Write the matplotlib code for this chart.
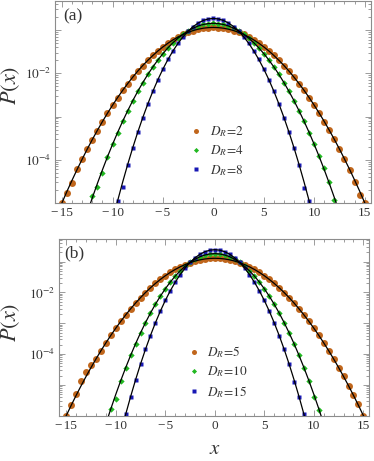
import numpy as np
import matplotlib
matplotlib.use("Agg")
import matplotlib.pyplot as plt
from matplotlib.ticker import FixedLocator, MultipleLocator, LogLocator, FuncFormatter
from matplotlib.lines import Line2D

plt.rcParams['font.family'] = ['Liberation Serif', 'DejaVu Serif']
plt.rcParams['mathtext.fontset'] = 'stix'

# ---------------- data ----------------
x_step = 0.5
xticks = [-15, -10, -5, 0, 5, 10, 15]
xtick_labels = ['\u2212\u200a15', '\u2212\u200a10', '\u2212\u200a5', '0', '5', '10', '15']
ytick_labels = {-2: r'$10^{-2}$', -4: r'$10^{-4}$'}

labels_a = [r'$D_R\!=\!2$', r'$D_R\!=\!4$', r'$D_R\!=\!8$']
labels_b = [r'$D_R\!=\!5$', r'$D_R\!=\!10$', r'$D_R\!=\!15$']

# panel (a) simulation points, first x of each series
x0_a2, x0_a4, x0_a8 = -15.0, -12.0, -9.5
pts_a2 = [1.02e-5, 1.74e-5, 2.9e-5, 6.02e-5, 1.04e-4, 1.77e-4, 2.80e-4, 4.6e-4, 7.6e-4, 1.19e-3,
          1.82e-3, 2.73e-3, 4.00e-3, 5.75e-3, 8.09e-3, 1.12e-2, 1.51e-2, 1.99e-2, 2.58e-2, 3.28e-2,
          4.07e-2, 4.96e-2, 5.92e-2, 6.91e-2, 7.91e-2, 8.86e-2, 9.73e-2, 0.1046, 0.1102, 0.1136,
          0.1148,
          0.1136, 0.1102, 0.1046, 9.73e-2, 8.86e-2, 7.91e-2, 6.91e-2, 5.92e-2, 4.96e-2, 4.07e-2,
          3.28e-2, 2.58e-2, 1.99e-2, 1.51e-2, 1.12e-2, 8.09e-3, 5.75e-3, 4.00e-3, 2.73e-3, 1.82e-3,
          1.19e-3, 7.62e-4, 4.78e-4, 2.94e-4, 1.77e-4, 1.04e-4, 5.9e-5, 3.1e-5, 1.5e-5, 1.02e-5]
pts_a4 = [1.45e-5, 2.3e-5, 5.0e-5, 1.17e-4, 2.26e-4, 4.24e-4, 7.70e-4, 1.35e-3, 2.31e-3, 3.80e-3,
          6.07e-3, 9.38e-3, 1.40e-2, 2.03e-2, 2.85e-2, 3.88e-2, 5.10e-2, 6.50e-2, 8.02e-2, 9.57e-2,
          0.1107, 0.1239, 0.1343, 0.1409,
          0.1432,
          0.1409, 0.1343, 0.1239, 0.1107, 9.57e-2, 8.02e-2, 6.50e-2, 5.10e-2, 3.88e-2, 2.85e-2,
          2.03e-2, 1.40e-2, 9.38e-3, 6.07e-3, 3.80e-3, 2.31e-3, 1.35e-3, 7.70e-4, 4.24e-4, 2.26e-4,
          1.25e-4, 6.3e-5, 3.0e-5, 1.2e-5]
pts_a8 = [1.11e-5, 2.4e-5, 7.7e-5, 1.87e-4, 4.32e-4, 9.44e-4, 1.95e-3, 3.83e-3, 7.12e-3, 1.253e-2,
          2.09e-2, 3.30e-2, 4.95e-2, 7.03e-2, 9.45e-2, 0.1204, 0.1455, 0.1664, 0.1804,
          0.1854,
          0.1804, 0.1664, 0.1455, 0.1204, 9.45e-2, 7.03e-2, 4.95e-2, 3.30e-2, 2.09e-2, 1.253e-2,
          7.12e-3, 3.83e-3, 1.95e-3, 9.44e-4, 4.32e-4, 1.87e-4, 7.7e-5, 2.2e-5, 1.11e-5]

# panel (a) theory curves, half profile from x = 0 outward (symmetric)
curve_a2 = [0.1148, 0.1136, 0.1102, 0.1046, 9.73e-2, 8.86e-2, 7.91e-2, 6.91e-2, 5.92e-2, 4.96e-2,
            4.07e-2, 3.28e-2, 2.58e-2, 1.99e-2, 1.51e-2, 1.12e-2, 8.09e-3, 5.75e-3, 4.00e-3, 2.73e-3,
            1.82e-3, 1.19e-3, 7.62e-4, 4.78e-4, 2.94e-4, 1.77e-4, 1.04e-4, 6.02e-5, 3.40e-5, 1.89e-5,
            1.02e-5, 5.4e-6, 2.8e-6]
curve_a4 = [0.1432, 0.1409, 0.1343, 0.1239, 0.1107, 9.57e-2, 8.02e-2, 6.50e-2, 5.10e-2, 3.88e-2,
            2.85e-2, 2.03e-2, 1.40e-2, 9.38e-3, 6.07e-3, 3.80e-3, 2.31e-3, 1.35e-3, 7.70e-4, 4.24e-4,
            2.26e-4, 1.17e-4, 5.83e-5, 2.82e-5, 1.32e-5, 6.0e-6, 2.64e-6]
curve_a8 = [0.1854, 0.1804, 0.1664, 0.1455, 0.1204, 9.45e-2, 7.03e-2, 4.95e-2, 3.30e-2, 2.09e-2,
            1.253e-2, 7.12e-3, 3.83e-3, 1.953e-3, 9.44e-4, 4.32e-4, 1.874e-4, 7.70e-5, 3.00e-5,
            1.107e-5, 3.87e-6, 1.29e-6]

# panel (b) simulation points
x0_b5, x0_b10, x0_b15 = -15.0, -10.5, -9.0
pts_b5 = [1.0e-6, 2.17e-6, 5.0e-6, 1.3e-5, 2.6e-5, 4.3e-5, 6.93e-5, 1.28e-4, 2.31e-4, 4.05e-4,
          6.92e-4, 1.15e-3, 1.87e-3, 2.95e-3, 4.55e-3, 6.82e-3, 9.96e-3, 1.42e-2, 1.97e-2, 2.66e-2,
          3.49e-2, 4.48e-2, 5.59e-2, 6.80e-2, 8.07e-2, 9.31e-2, 0.1047, 0.1148, 0.1225, 0.1274,
          0.1291,
          0.1274, 0.1225, 0.1148, 0.1047, 9.31e-2, 8.07e-2, 6.80e-2, 5.59e-2, 4.48e-2, 3.49e-2,
          2.66e-2, 1.97e-2, 1.42e-2, 9.96e-3, 6.82e-3, 4.55e-3, 2.95e-3, 1.87e-3, 1.15e-3, 6.92e-4,
          4.05e-4, 2.31e-4, 1.28e-4, 6.93e-5, 3.65e-5, 1.88e-5, 9.4e-6, 4.57e-6, 2.4e-6, 1.0e-6]
pts_b10 = [1.67e-6, 3.6e-6, 1.37e-5, 3.62e-5, 9.1e-5, 2.17e-4, 4.9e-4, 1.05e-3, 2.14e-3, 4.14e-3,
           7.58e-3, 1.32e-2, 2.17e-2, 3.40e-2, 5.04e-2, 7.10e-2, 9.48e-2, 0.1201, 0.1444, 0.1648,
           0.1783,
           0.1830,
           0.1783, 0.1648, 0.1444, 0.1201, 9.48e-2, 7.10e-2, 5.04e-2, 3.40e-2, 2.17e-2, 1.32e-2,
           7.58e-3, 4.14e-3, 2.14e-3, 1.05e-3, 4.9e-4, 2.17e-4, 9.1e-5, 3.62e-5, 1.37e-5, 4.0e-6,
           1.5e-6]
pts_b15 = [1.11e-6, 4.18e-6, 1.47e-5, 4.76e-5, 1.43e-4, 4.0e-4, 1.03e-3, 2.48e-3, 5.5e-3, 1.13e-2,
           2.16e-2, 3.82e-2, 6.25e-2, 9.49e-2, 0.1337, 0.1744, 0.2109, 0.2362,
           0.2455,
           0.2362, 0.2109, 0.1744, 0.1337, 9.49e-2, 6.25e-2, 3.82e-2, 2.16e-2, 1.13e-2, 5.5e-3,
           2.48e-3, 1.03e-3, 4.0e-4, 1.43e-4, 4.76e-5, 1.2e-5, 4.18e-6, 1.11e-6]

curve_b5 = [0.1291, 0.1274, 0.1225, 0.1148, 0.1047, 9.31e-2, 8.07e-2, 6.80e-2, 5.59e-2, 4.48e-2,
            3.49e-2, 2.655e-2, 1.965e-2, 1.417e-2, 9.96e-3, 6.82e-3, 4.55e-3, 2.953e-3, 1.869e-3,
            1.152e-3, 6.92e-4, 4.05e-4, 2.307e-4, 1.281e-4, 6.93e-5, 3.65e-5, 1.875e-5, 9.38e-6,
            4.57e-6, 2.17e-6, 1.003e-6, 4.5e-7, 1.98e-7]
curve_b10 = [0.1830, 0.1783, 0.1648, 0.1444, 0.1201, 9.48e-2, 7.10e-2, 5.04e-2, 3.40e-2, 2.172e-2,
             1.317e-2, 7.58e-3, 4.14e-3, 2.142e-3, 1.052e-3, 4.90e-4, 2.17e-4, 9.10e-5, 3.62e-5,
             1.368e-5, 4.90e-6, 1.667e-6, 5.4e-7, 1.64e-7]
curve_b15 = [0.2455, 0.2362, 0.2109, 0.1744, 0.1337, 9.49e-2, 6.25e-2, 3.82e-2, 2.158e-2, 1.131e-2,
             5.50e-3, 2.475e-3, 1.033e-3, 4.00e-4, 1.432e-4, 4.76e-5, 1.466e-5, 4.18e-6, 1.107e-6,
             2.71e-7, 6.2e-8]

# ---------------- style ----------------
c_or, c_gr, c_bl = '#C0661C', '#22B822', '#1818B4'
frame_c = '#8c8c8c'
text_c = '#333333'


def pts_xy(x0, vals):
    vals = np.asarray(vals)
    return x0 + x_step * np.arange(len(vals)), vals


def curve_xy(half):
    half = np.asarray(half)
    xh = x_step * np.arange(len(half))
    return np.concatenate([-xh[:0:-1], xh]), np.concatenate([half[:0:-1], half])


def style(ax, ylim):
    ax.set_yscale('log')
    ax.set_xlim(-15.7, 15.6)
    ax.set_ylim(*ylim)
    ax.xaxis.set_major_locator(FixedLocator(xticks))
    ax.set_xticklabels(xtick_labels)
    ax.xaxis.set_minor_locator(MultipleLocator(1))
    ax.yaxis.set_major_locator(LogLocator(base=10, numticks=20))
    ax.yaxis.set_minor_locator(LogLocator(base=10, subs=np.arange(2, 10), numticks=20))

    def fmt(v, pos):
        k = int(round(np.log10(v)))
        return ytick_labels.get(k, '')
    ax.yaxis.set_major_formatter(FuncFormatter(fmt))
    ax.tick_params(which='both', direction='in', top=True, right=True, color=frame_c,
                   labelcolor=text_c, labelsize=9.5, width=0.6)
    ax.tick_params(which='major', length=4, pad=3)
    ax.tick_params(which='minor', length=2)
    for s in ax.spines.values():
        s.set_color(frame_c)
        s.set_linewidth(0.8)


def draw(ax, series, labels):
    handles = []
    for (x0, pts, curve, col, mk, ms, lms), lab in zip(series, labels):
        xc, yc = curve_xy(curve)
        ax.plot(xc, yc, color='black', lw=0.9, zorder=3)
        xp, yp = pts_xy(x0, pts)
        ax.plot(xp, yp, ls='none', marker=mk, ms=ms, color=col, mec='none', zorder=2)
        handles.append(Line2D([], [], ls='none', marker=mk, ms=lms, color=col, mec='none'))
    return handles


fig = plt.figure(figsize=(3.74, 4.61), dpi=100)
axA = fig.add_axes([0.1471, 0.5597, 0.8441, 0.4382])
axB = fig.add_axes([0.1586, 0.0983, 0.8289, 0.3833])

style(axA, (1e-5, 0.47))
style(axB, (1e-6, 0.546))

hA = draw(axA, [(x0_a2, pts_a2, curve_a2, c_or, 'o', 5.0, 3.6),
                (x0_a4, pts_a4, curve_a4, c_gr, 'D', 3.2, 2.6),
                (x0_a8, pts_a8, curve_a8, c_bl, 's', 3.2, 2.6)], labels_a)
hB = draw(axB, [(x0_b5, pts_b5, curve_b5, c_or, 'o', 5.0, 3.6),
                (x0_b10, pts_b10, curve_b10, c_gr, 'D', 3.2, 2.6),
                (x0_b15, pts_b15, curve_b15, c_bl, 's', 3.2, 2.6)], labels_b)

for ax, h, lab, anchor in [(axA, hA, labels_a, (0.431, 0.257)), (axB, hB, labels_b, (0.418, 0.247))]:
    ax.legend(h, lab, loc='center left', bbox_to_anchor=anchor, frameon=False, fontsize=9.5,
              handlelength=0.8, handletextpad=0.6, labelspacing=0.35, borderpad=0, borderaxespad=0,
              labelcolor=text_c)

axA.text(0.025, 0.965, '(a)', transform=axA.transAxes, fontsize=12.5, va='top', ha='left', color=text_c)
axB.text(0.015, 0.965, '(b)', transform=axB.transAxes, fontsize=12.5, va='top', ha='left', color=text_c)

for ax, yc, xc in [(axA, 0.584, -0.105), (axB, 0.525, -0.12)]:
    ax.set_ylabel(r'$P(x)$', fontsize=16, color=text_c)
    ax.yaxis.set_label_coords(xc, yc)
axB.set_xlabel(r'$x$', fontsize=15, color=text_c)
axB.xaxis.set_label_coords(0.502, -0.135)

fig.savefig('out.png', dpi=100)
